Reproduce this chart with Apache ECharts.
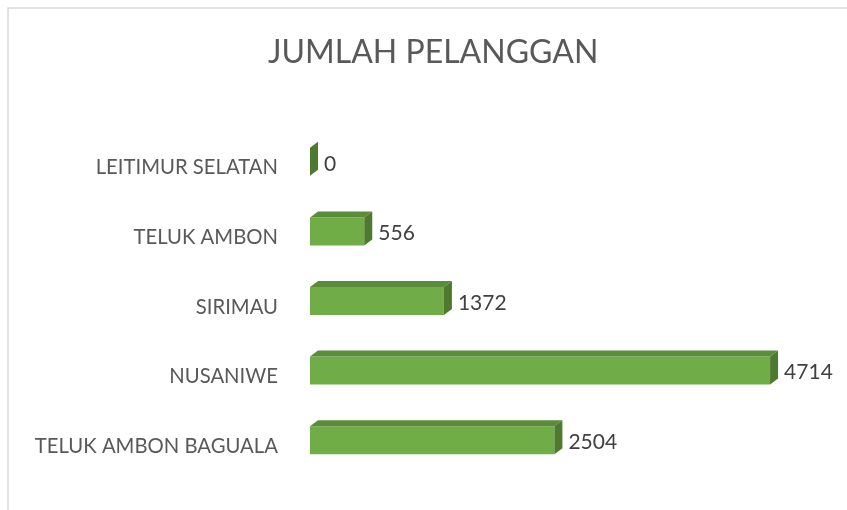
<!DOCTYPE html>
<html>
<head>
<meta charset="utf-8">
<script src="https://cdn.jsdelivr.net/npm/echarts@6/dist/echarts.min.js"></script>
<style>html,body{margin:0;padding:0;background:#fff}#c{width:847px;height:510px}</style>
</head>
<body>
<div id="c"></div>
<script>
var titleText = 'JUMLAH PELANGGAN';
var categories = ['TELUK AMBON BAGUALA', 'NUSANIWE', 'SIRIMAU', 'TELUK AMBON', 'LEITIMUR SELATAN'];
var values = [2504, 4714, 1372, 556, 0];

var chart = echarts.init(document.getElementById('c'), null, {renderer: 'canvas'});
var FONT = 'Lato, "Open Sans", sans-serif';

function renderItem(params, api) {
  var v = api.value(0);
  var ci = api.value(1);
  var p0 = api.coord([0, ci]);
  var p1 = api.coord([v, ci]);
  var cy = p0[1];
  var top = cy - 20, bot = cy + 8, dx = 8, dy = 6;
  var x0 = p0[0], x1 = p1[0];
  var children = [];
  if (x1 - x0 > 0.5) {
    children.push({type: 'rect', shape: {x: x0, y: top, width: x1 - x0, height: bot - top}, style: {fill: '#70AD47'}});
    children.push({type: 'polygon', shape: {points: [[x0, top], [x0 + dx, top - dy], [x1 + dx, top - dy], [x1, top]]}, style: {fill: '#5B8C3A'}});
  }
  children.push({type: 'polygon', shape: {points: [[x1, top], [x1 + dx, top - dy], [x1 + dx, bot - dy], [x1, bot]]}, style: {fill: '#4D7A2E'}});
  children.push({type: 'text', style: {x: x1 + dx + 6, y: (top + bot) / 2 + 2, text: String(v), fill: '#404040', font: '21px ' + FONT, textAlign: 'left', textVerticalAlign: 'middle'}});
  return {type: 'group', children: children};
}

chart.setOption({
  animation: false,
  backgroundColor: '#fff',
  title: {
    text: titleText, left: 263, top: 32,
    textStyle: {color: '#595959', fontSize: 32, fontWeight: 'normal', fontFamily: FONT}
  },
  graphic: [{type: 'rect', shape: {x: 8, y: 8, width: 1000, height: 700}, style: {fill: 'none', stroke: '#D9D9D9', lineWidth: 1.5}, z: -1}],
  grid: {left: 310, right: 49, top: 133, bottom: 29},
  xAxis: {type: 'value', min: 0, max: 5000, show: false},
  yAxis: {
    type: 'category', data: categories,
    axisLine: {show: false}, axisTick: {show: false}, splitLine: {show: false},
    axisLabel: {color: '#595959', fontSize: 20.3, fontFamily: FONT, margin: 32}
  },
  series: [{
    type: 'custom', renderItem: renderItem,
    encode: {x: 0, y: 1},
    data: values.map(function (v, i) { return [v, i]; })
  }]
});
</script>
</body>
</html>
